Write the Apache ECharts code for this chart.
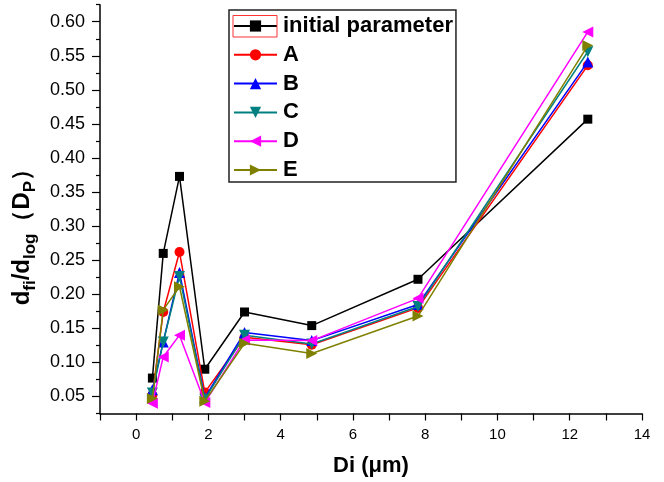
<!DOCTYPE html>
<html>
<head>
<meta charset="utf-8">
<script src="https://cdn.jsdelivr.net/npm/echarts@6/dist/echarts.min.js"></script>
<style>
html,body{margin:0;padding:0;background:#fff;}
#chart{width:664px;height:482px;}
</style>
</head>
<body>
<div id="chart"></div>
<script>
// ---- data ----
const diameters = [0.45, 0.75, 1.2, 1.9, 3.0, 4.86, 7.8, 12.5];
const seriesNames = ['initial parameter', 'A', 'B', 'C', 'D', 'E'];
const initialParameter = [0.077, 0.260, 0.373, 0.090, 0.174, 0.154, 0.222, 0.457];
const seriesA = [0.052, 0.174, 0.262, 0.056, 0.137, 0.126, 0.180, 0.536];
const seriesB = [0.060, 0.130, 0.232, 0.048, 0.144, 0.132, 0.185, 0.541];
const seriesC = [0.055, 0.130, 0.226, 0.046, 0.140, 0.127, 0.182, 0.556];
const seriesD = [0.040, 0.108, 0.140, 0.041, 0.133, 0.132, 0.194, 0.585];
const seriesE = [0.047, 0.177, 0.211, 0.043, 0.128, 0.113, 0.168, 0.565];
const yMajorTicks = [0.05, 0.10, 0.15, 0.20, 0.25, 0.30, 0.35, 0.40, 0.45, 0.50, 0.55, 0.60];
const yMinorTicks = [0.025, 0.075, 0.125, 0.175, 0.225, 0.275, 0.325, 0.375, 0.425, 0.475, 0.525, 0.575, 0.625];
const xTickLabels = [0, 2, 4, 6, 8, 10, 12, 14];

const allValues = [initialParameter, seriesA, seriesB, seriesC, seriesD, seriesE];
const colors = ['#000000', '#FF0000', '#0000FF', '#008080', '#FF00FF', '#808000'];
const symbols = ['rect', 'circle', 'triangle', 'triangle', 'triangle', 'triangle'];
const rotations = [0, 0, 0, 180, 90, -90];
const sizes = [9, 10, 11, 11, 11, 11];

const FONT = 'Liberation Sans, Arial, sans-serif';
const chart = echarts.init(document.getElementById('chart'), null, {renderer: 'canvas'});

const series = seriesNames.map((name, i) => ({
  name: name,
  type: 'line',
  yAxisIndex: 0,
  data: diameters.map((d, j) => [d, allValues[i][j]]),
  symbol: symbols[i],
  symbolRotate: rotations[i],
  symbolSize: sizes[i],
  showAllSymbol: true,
  lineStyle: {color: colors[i], width: 1.5},
  itemStyle: {color: colors[i]},
  emphasis: {disabled: true},
  animation: false,
  z: 2 + i
}));

const Y_MIN = 0.025, Y_MAX = 0.625;

chart.setOption({
  animation: false,
  backgroundColor: '#ffffff',
  textStyle: {fontFamily: FONT},
  grid: {left: 100, right: 22, top: 4.7, bottom: 68.5, containLabel: false},
  legend: {
    orient: 'vertical',
    left: 229, top: 10,
    padding: [5, 3, 1, 4],
    itemWidth: 43, itemHeight: 14, itemGap: 6.8,
    borderColor: '#222', borderWidth: 1.5,
    backgroundColor: '#fff',
    data: seriesNames,
    textStyle: {fontSize: 22, fontWeight: 'bold', color: '#000', fontFamily: FONT, lineHeight: 22, padding: [0, 0, 0, 1]}
  },
  xAxis: {
    type: 'value',
    min: -1, max: 14, interval: 1,
    name: 'Di (μm)',
    nameLocation: 'middle',
    nameGap: 41,
    nameTextStyle: {fontSize: 22, fontWeight: 'bold', color: '#000', fontFamily: FONT},
    axisLine: {show: true, onZero: false, lineStyle: {color: '#000', width: 1.5}},
    axisTick: {show: true, length: 7, lineStyle: {color: '#000', width: 1.2}},
    axisLabel: {
      fontSize: 15, color: '#000', fontFamily: FONT, margin: 13.5,
      formatter: v => (xTickLabels.indexOf(v) >= 0 ? String(v) : '')
    },
    splitLine: {show: false}
  },
  yAxis: [{
    type: 'value',
    min: Y_MIN, max: Y_MAX,
    name: '{m|d}{s|fi}{m|/d}{s|log}{m|（D}{s|P}{m|）}',
    nameLocation: 'middle',
    nameRotate: 90,
    nameGap: 55,
    nameTextStyle: {
      fontFamily: FONT, color: '#000',
      padding: [0, 44, 0, 0],
      rich: {
        m: {fontSize: 24, fontWeight: 'bold', color: '#000', fontFamily: FONT, verticalAlign: 'bottom', padding: [0, 0, 5, 0]},
        s: {fontSize: 17, fontWeight: 'bold', color: '#000', fontFamily: FONT, verticalAlign: 'bottom'}
      }
    },
    axisLine: {show: true, onZero: false, lineStyle: {color: '#000', width: 1.5}},
    axisTick: {show: true, length: 8, customValues: yMajorTicks, lineStyle: {color: '#000', width: 1.2}},
    axisLabel: {
      fontSize: 18, color: '#000', fontFamily: FONT, margin: 15,
      customValues: yMajorTicks,
      formatter: v => v.toFixed(2)
    },
    splitLine: {show: false}
  }, {
    type: 'value',
    position: 'left',
    min: Y_MIN, max: Y_MAX,
    axisLine: {show: false, onZero: false},
    axisTick: {show: true, length: 4, customValues: yMinorTicks, lineStyle: {color: '#000', width: 1.2}},
    axisLabel: {show: false},
    splitLine: {show: false}
  }],
  graphic: [{
    type: 'rect',
    shape: {x: 233, y: 15.5, width: 44, height: 21.5},
    style: {fill: 'none', stroke: '#FF3333', lineWidth: 1},
    z: 100
  }],
  series: series
});
</script>
</body>
</html>
